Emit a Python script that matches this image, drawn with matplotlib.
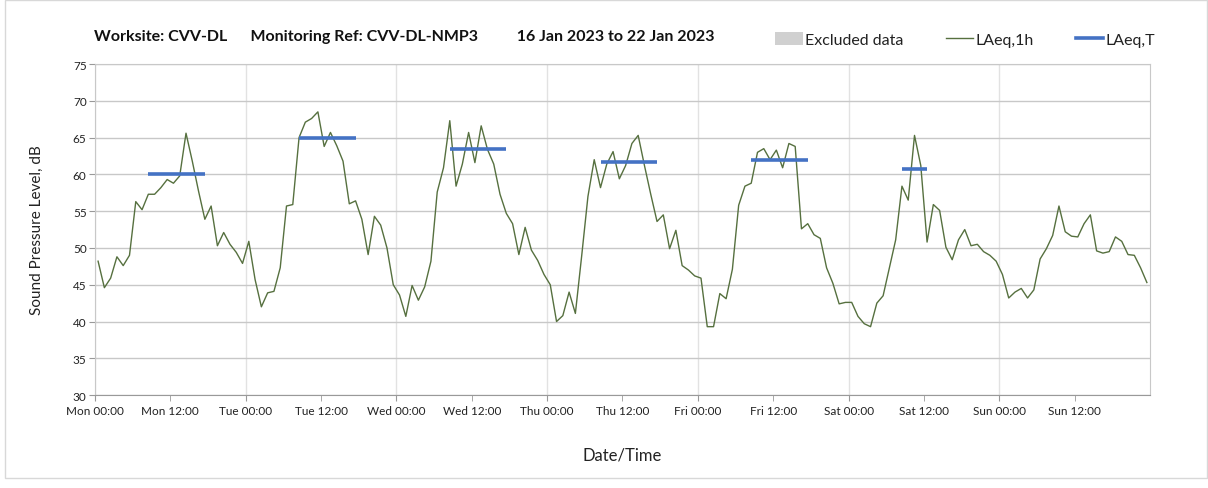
import numpy as np
import matplotlib
matplotlib.use('Agg')
import matplotlib.pyplot as plt
from matplotlib.patches import Patch, Rectangle
from matplotlib.lines import Line2D

plt.rcParams['font.family'] = ['Lato', 'DejaVu Sans']

# hourly LAeq,1h values, Mon 00:00 to Sun 23:00
laeq_1h = [
    48.2, 44.6, 45.9, 48.8, 47.6, 49.0, 56.3, 55.2, 57.3, 57.3, 58.2, 59.3,
    58.8, 59.8, 65.6, 61.8, 57.7, 53.9, 55.7, 50.3, 52.1, 50.5, 49.4, 47.9,
    50.9, 45.7, 42.0, 43.9, 44.1, 47.3, 55.7, 55.9, 65.0, 67.1, 67.6, 68.5,
    63.8, 65.7, 63.9, 61.8, 56.0, 56.4, 53.9, 49.1, 54.3, 53.1, 50.0, 45.0,
    43.6, 40.7, 44.9, 42.9, 44.7, 48.2, 57.6, 60.9, 67.3, 58.4, 61.4, 65.7,
    61.6, 66.6, 63.4, 61.4, 57.3, 54.7, 53.3, 49.1, 52.8, 49.7, 48.3, 46.4,
    45.0, 40.0, 40.8, 44.0, 41.1, 48.9, 57.0, 62.0, 58.2, 61.4, 63.1, 59.4,
    61.2, 64.2, 65.3, 61.2, 57.3, 53.6, 54.5, 49.9, 52.4, 47.6, 47.0, 46.2,
    45.9, 39.3, 39.3, 43.8, 43.1, 47.1, 55.8, 58.4, 58.8, 63.0, 63.5, 62.0,
    63.3, 60.9, 64.2, 63.8, 52.6, 53.3, 51.8, 51.3, 47.3, 45.2, 42.4, 42.6,
    42.6, 40.7, 39.7, 39.3, 42.5, 43.5, 47.3, 51.1, 58.4, 56.5, 65.3, 61.2,
    50.8, 55.9, 55.1, 50.1, 48.4, 51.1, 52.5, 50.3, 50.5, 49.5, 49.0, 48.2,
    46.4, 43.2, 44.0, 44.5, 43.2, 44.3, 48.5, 49.9, 51.7, 55.7, 52.2, 51.6,
    51.5, 53.3, 54.5, 49.6, 49.3, 49.5, 51.5, 50.9, 49.1, 49.0, 47.3, 45.3,
]

# LAeq,T over each daytime period (first and last hour of period)
period_start = [8, 32, 56, 80, 104, 128]
period_end = [17, 41, 65, 89, 113, 132]
period_level = [60.0, 65.0, 63.4, 61.7, 62.0, 60.8]

days = ['Mon', 'Tue', 'Wed', 'Thu', 'Fri', 'Sat', 'Sun']

hours = np.arange(len(laeq_1h)) + 0.5

fig = plt.figure(figsize=(12.08, 4.89), dpi=100)
ax = fig.add_axes([0.0786, 0.190, 0.8734, 0.677])

ax.plot(hours, laeq_1h, color='#56703f', lw=1.0, zorder=3)
for s, e, v in zip(period_start, period_end, period_level):
    ax.plot([s + 0.5, e + 0.5], [v, v], color='#4472c4', lw=2.6,
            solid_capstyle='butt', zorder=4)

ax.set_xlim(0, 168)
ax.set_ylim(30, 75)
ax.set_yticks(np.arange(30, 76, 5))
ax.set_xticks(np.arange(0, 168, 24))
ax.set_xticklabels([d + ' 00:00' for d in days])
ax.set_xticks(np.arange(12, 168, 24), minor=True)
ax.set_xticklabels([d + ' 12:00' for d in days], minor=True)

ax.grid(axis='y', color='#c8c8c8', lw=1.0)
ax.grid(axis='x', which='major', color='#e2e2e2', lw=1.0)
ax.set_axisbelow(True)

for side in ['left', 'right', 'top']:
    ax.spines[side].set_color('#c8c8c8')
ax.spines['bottom'].set_color('#999999')
ax.tick_params(axis='both', which='both', direction='out', length=4,
               color='#999999', labelsize=8.5, labelcolor='#222222', pad=3)
ax.tick_params(axis='y', labelsize=8.5, pad=2)

ax.set_ylabel('Sound Pressure Level, dB', fontsize=11, color='#222222', labelpad=21)
ax.set_xlabel('Date/Time', fontsize=12, color='#222222', labelpad=22)

fig.text(0.078, 0.925, 'Worksite: CVV-DL      Monitoring Ref: CVV-DL-NMP3          '
         '16 Jan 2023 to 22 Jan 2023', fontsize=11.5, fontweight='bold',
         ha='left', va='center', color='#111111')

handles = [Patch(facecolor='#d0d0d0', edgecolor='none'),
           Line2D([], [], color='#56703f', lw=1.0),
           Line2D([], [], color='#4472c4', lw=2.6)]
fig.legend(handles, ['Excluded data', 'LAeq,1h', 'LAeq,T'], ncol=3,
           loc='center left', bbox_to_anchor=(0.630, 0.918), frameon=False,
           fontsize=11.5, handlelength=1.7, handleheight=0.9,
           handletextpad=0.15, columnspacing=2.65, labelcolor='#222222')

fig.patches.append(Rectangle((0.004, 0.02), 0.995, 0.978, transform=fig.transFigure,
                             fill=False, edgecolor='#d8d8d8', lw=1.0))

fig.savefig('out.png', dpi=100)
